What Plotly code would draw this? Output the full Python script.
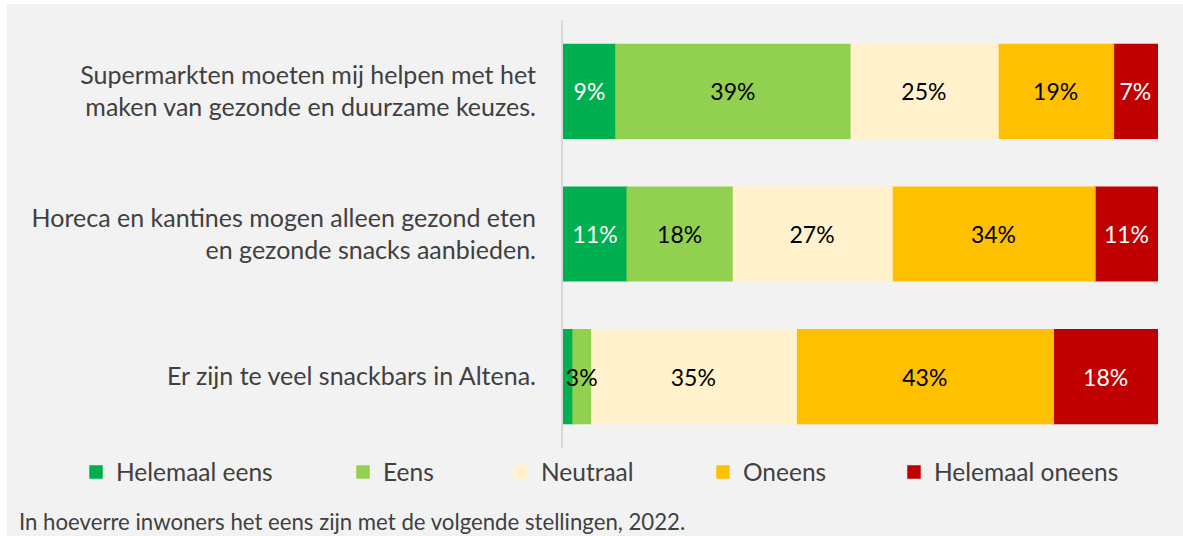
import plotly.graph_objects as go

categories = [
    "Supermarkten moeten mij helpen met het<br>maken van gezonde en duurzame keuzes.",
    "Horeca en kantines mogen alleen gezond eten<br>en gezonde snacks aanbieden.",
    "Er zijn te veel snackbars in Altena.",
]
series_names = ["Helemaal eens", "Eens", "Neutraal", "Oneens", "Helemaal oneens"]
helemaal_eens = [8.9, 10.8, 1.7]
eens = [39.3, 17.6, 2.9]
neutraal = [24.9, 26.9, 34.6]
oneens = [19.4, 34.1, 43.2]
helemaal_oneens = [7.4, 10.6, 17.6]
series_values = [helemaal_eens, eens, neutraal, oneens, helemaal_oneens]
colors = ["#00b050", "#92d050", "#fff2cc", "#ffc000", "#c00000"]
label_colors = ["white", "black", "black", "black", "white"]
min_label = 2.0  # segments smaller than this get no label
draw_order = [4, 3, 2, 0, 1]  # so that the overflowing "3%" label stays on top

FONT = "Lato"
TXT = "#404040"

# page offset (body margin) and figure size
OX, OY = 7, 4
W, H = 1183 - OX, 536 - OY
ml, mr, mt, mb = 556, 25, 16, 88
pw = W - ml - mr
ph = H - mt - mb


def px_x(p):  # page pixel -> paper x
    return (p - OX - ml) / pw


def px_y(p):  # page pixel -> paper y
    return (H - mb - (p - OY)) / ph


legend_text_x = [116, 383, 541, 743, 934]

# cumulative bases
bases = []
run = [0.0] * len(categories)
for vals in series_values:
    bases.append(list(run))
    run = [r + v for r, v in zip(run, vals)]

fig = go.Figure()
for i in draw_order:
    name, vals = series_names[i], series_values[i]
    texts = [f"{round(v):.0f}%" if v >= min_label else "" for v in vals]
    lkey = "legend" if i == 0 else f"legend{i + 1}"
    fig.add_trace(go.Bar(
        y=categories, x=vals, base=bases[i], name=name, orientation="h",
        marker=dict(color=colors[i], line=dict(width=1.5, color=colors[i])),
        text=texts, textposition="inside", insidetextanchor="middle",
        textangle=0, constraintext="none",
        textfont=dict(family=FONT, size=23, color=label_colors[i]),
        width=0.656, legend=lkey, hoverinfo="skip",
    ))

layout_legends = {}
for i in range(5):
    lkey = "legend" if i == 0 else f"legend{i + 1}"
    layout_legends[lkey] = dict(
        x=px_x(legend_text_x[i] - 40), xanchor="left",
        y=px_y(472), yanchor="middle", orientation="h",
        bgcolor="rgba(0,0,0,0)", borderwidth=0,
        font=dict(family=FONT, size=24.5, color=TXT),
        itemclick=False, itemdoubleclick=False,
    )

fig.update_layout(
    barmode="overlay",
    width=W, height=H,
    margin=dict(l=ml, r=mr, t=mt, b=mb, pad=0),
    paper_bgcolor="#f2f2f2", plot_bgcolor="#f2f2f2",
    showlegend=True,
    xaxis=dict(range=[0, 100], visible=False, fixedrange=True),
    yaxis=dict(
        autorange="reversed", showgrid=False, zeroline=False,
        showline=True, linecolor="#d9d9d9", linewidth=2,
        ticks="", ticklabelstandoff=20,
        tickfont=dict(family=FONT, size=25, color=TXT),
        fixedrange=True,
    ),
    **layout_legends,
    annotations=[dict(
        text="In hoeverre inwoners het eens zijn met de volgende stellingen, 2022.",
        xref="paper", yref="paper", x=px_x(17), y=px_y(521),
        xanchor="left", yanchor="middle", showarrow=False,
        font=dict(family=FONT, size=22.2, color=TXT),
    )],
)

fig.write_html(
    "out.html",
    config={"displayModeBar": False},
    post_script="document.body.style.margin='4px 0 0 7px';"
                "document.body.style.overflow='hidden';"
                "document.documentElement.style.overflow='hidden';",
)
